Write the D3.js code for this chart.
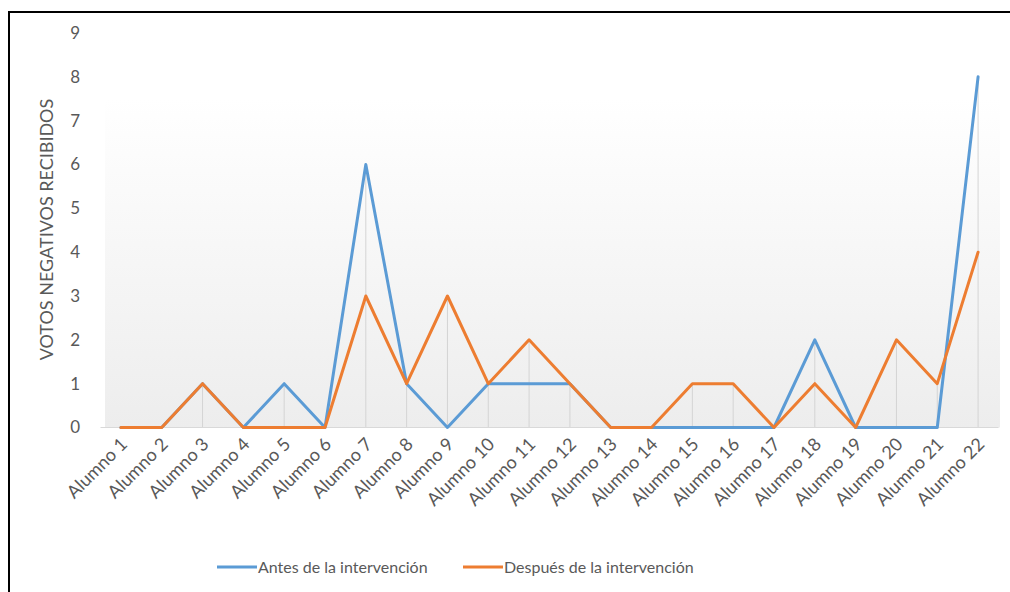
<!DOCTYPE html>
<html><head><meta charset="utf-8">
<script src="https://cdn.jsdelivr.net/npm/d3@7"></script>
<style>body{margin:0;background:#fff}svg{display:block}</style>
</head><body>
<svg id="c" width="1010" height="592"></svg>
<script>
const categories = ["Alumno 1","Alumno 2","Alumno 3","Alumno 4","Alumno 5","Alumno 6","Alumno 7","Alumno 8","Alumno 9","Alumno 10","Alumno 11","Alumno 12","Alumno 13","Alumno 14","Alumno 15","Alumno 16","Alumno 17","Alumno 18","Alumno 19","Alumno 20","Alumno 21","Alumno 22"];
const antes   = [0,0,1,0,1,0,6,1,0,1,1,1,0,0,0,0,0,2,0,0,0,8];
const despues = [0,0,1,0,0,0,3,1,3,1,2,1,0,0,1,1,0,1,0,2,1,4];
const yTicks = [0,1,2,3,4,5,6,7,8,9];
const seriesNames = ["Antes de la intervención","Después de la intervención"];
const colors = ["#5b9bd5","#ed7d31"];
const yTitle = "VOTOS NEGATIVOS RECIBIDOS";

const svg = d3.select("#c");
const font = "Lato, 'Liberation Sans', sans-serif";
const textCol = "#595959";

svg.append("path").attr("d","M9,592V12H1010").attr("fill","none").attr("stroke","#000").attr("stroke-width",2);

const x = d3.scalePoint().domain(categories).range([100.5, 998.5]).padding(0.5);
const y = d3.scaleLinear().domain([0,9]).range([427.5, 33]);

const defs = svg.append("defs");
const g = defs.append("linearGradient").attr("id","bg").attr("x1",0).attr("y1",0).attr("x2",0).attr("y2",1);
g.append("stop").attr("offset","0%").attr("stop-color","#ffffff");
g.append("stop").attr("offset","100%").attr("stop-color","#ededed");
svg.append("rect").attr("x",105).attr("y",98).attr("width",895).attr("height",y(0)-98).attr("fill","url(#bg)");

svg.append("g").selectAll("line").data(categories).join("line")
  .attr("x1",d=>x(d)).attr("x2",d=>x(d))
  .attr("y1",(d,i)=>y(Math.max(antes[i],despues[i]))).attr("y2",y(0))
  .attr("stroke","#d4d4d4").attr("stroke-width",1);

svg.append("line").attr("x1",100.5).attr("x2",998.5).attr("y1",y(0)).attr("y2",y(0)).attr("stroke","#d9d9d9");

svg.append("g").selectAll("text").data(yTicks).join("text")
  .attr("x",80).attr("y",d=>y(d)).attr("dy","0.35em").attr("text-anchor","end")
  .attr("font-family",font).attr("font-size",17).attr("fill",textCol).text(d=>d);

svg.append("text").attr("transform",`translate(53,${(96+363)/2}) rotate(-90)`)
  .attr("text-anchor","middle").attr("font-family",font).attr("font-size",18).attr("fill",textCol).text(yTitle);

svg.append("g").selectAll("text").data(categories).join("text")
  .attr("transform",d=>`translate(${x(d)+3},${441}) rotate(-45)`)
  .attr("text-anchor","end").attr("dy","0.35em")
  .attr("font-family",font).attr("font-size",18).attr("fill",textCol).text(d=>d);

const line = d3.line().x((d,i)=>x(categories[i])).y(d=>y(d));
[antes, despues].forEach((s,k)=>{
  svg.append("path").datum(s).attr("d",line).attr("fill","none")
    .attr("stroke",colors[k]).attr("stroke-width",3).attr("stroke-linejoin","round").attr("stroke-linecap","round");
});

const legX = [217, 463];
seriesNames.forEach((n,k)=>{
  svg.append("line").attr("x1",legX[k]).attr("x2",legX[k]+40).attr("y1",567).attr("y2",567)
    .attr("stroke",colors[k]).attr("stroke-width",3);
  svg.append("text").attr("x",legX[k]+41).attr("y",567).attr("dy","0.35em")
    .attr("font-family",font).attr("font-size",16).attr("fill",textCol).text(n);
});
</script>
</body></html>
